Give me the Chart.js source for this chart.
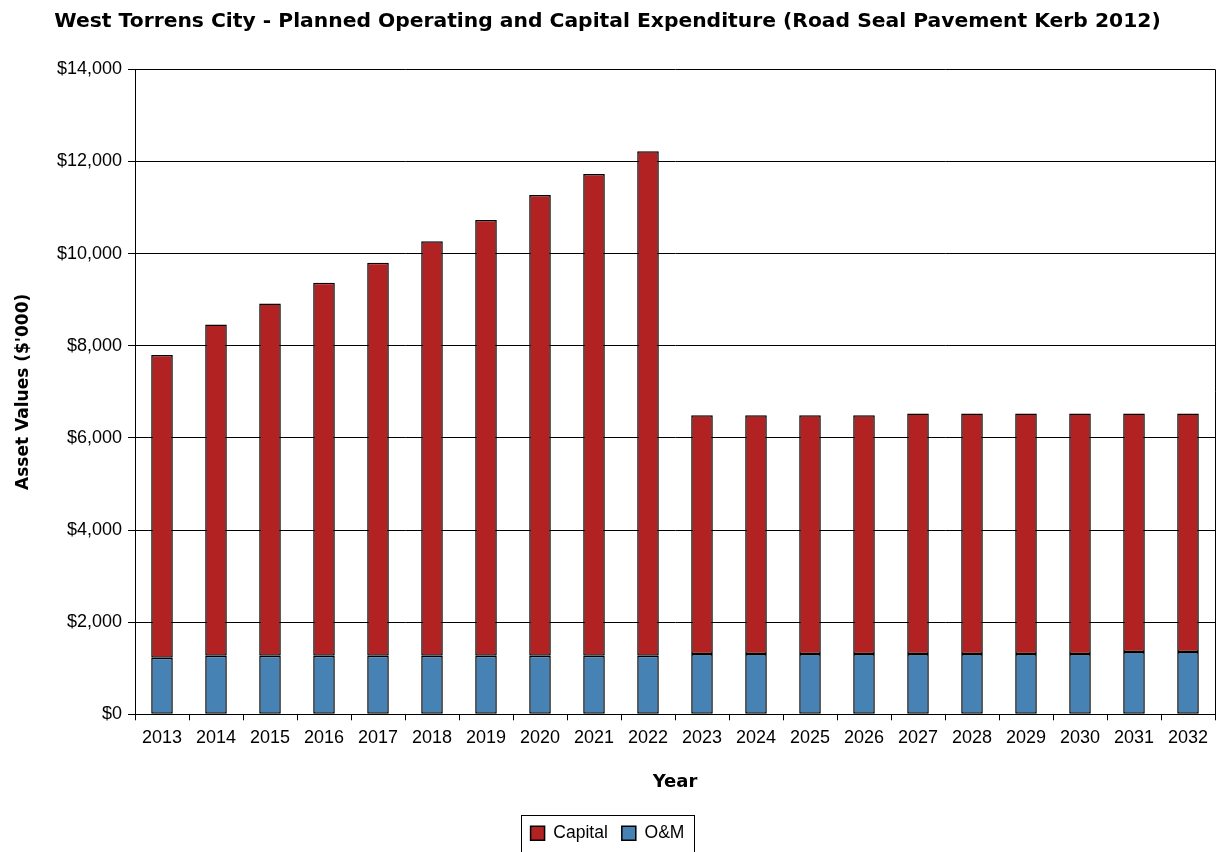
<!DOCTYPE html>
<html>
<head>
<meta charset="utf-8">
<script src="https://cdn.jsdelivr.net/npm/chart.js@4/dist/chart.umd.min.js"></script>
<style>
  html, body { margin: 0; padding: 0; background: #fff; }
  #wrap { width: 1216px; height: 852px; }
</style>
</head>
<body>
<div id="wrap"><canvas id="barChart"></canvas></div>
<script>
// Years on the x axis
const years = ["2013", "2014", "2015", "2016", "2017", "2018", "2019", "2020", "2021", "2022",
  "2023", "2024", "2025", "2026", "2027", "2028", "2029", "2030", "2031", "2032"];

// Operating & maintenance ($'000)
const omValues = [1230, 1270, 1270, 1270, 1270, 1270, 1270, 1270, 1270, 1270,
  1310, 1310, 1310, 1310, 1310, 1310, 1310, 1310, 1350, 1350];

// Capital ($'000)
const capitalValues = [6570, 7190, 7650, 8100, 8530, 9000, 9460, 10000, 10460, 10950,
  5180, 5180, 5180, 5180, 5220, 5220, 5220, 5220, 5180, 5180];

const yMin = 0, yMax = 14000, yStep = 2000;

// right border of plot area + box around legend
const framePlugin = {
  id: "frame",
  afterDraw(chart) {
    const ctx = chart.ctx;
    const a = chart.chartArea;
    ctx.save();
    ctx.strokeStyle = "#000";
    ctx.lineWidth = 1;
    ctx.beginPath();
    ctx.moveTo(Math.round(a.right) + 0.5, a.top);
    ctx.lineTo(Math.round(a.right) + 0.5, a.bottom);
    ctx.stroke();
    const lg = chart.legend;
    if (lg && lg.legendHitBoxes && lg.legendHitBoxes.length) {
      const boxes = lg.legendHitBoxes;
      const x0 = boxes[0].left - 10;
      const last = boxes[boxes.length - 1];
      const x1 = last.left + last.width + 9;
      const cy = boxes[0].top + boxes[0].height / 2;
      ctx.strokeRect(Math.round(x0) + 0.5, Math.round(cy - 18) + 0.5, Math.round(x1 - x0), 60);
    }
    ctx.restore();
  }
};

new Chart(document.getElementById("barChart"), {
  type: "bar",
  data: {
    labels: years,
    datasets: [
      {
        label: "O&M",
        data: omValues,
        backgroundColor: "#4682B4",
        borderColor: "#000",
        borderWidth: 1.5,
        borderSkipped: false,
        barPercentage: 0.4,
        categoryPercentage: 1
      },
      {
        label: "Capital",
        data: capitalValues,
        backgroundColor: "#B22222",
        borderColor: "#000",
        borderWidth: 1.5,
        borderSkipped: false,
        barPercentage: 0.4,
        categoryPercentage: 1
      }
    ]
  },
  options: {
    responsive: true,
    maintainAspectRatio: false,
    animation: false,
    layout: { padding: { left: 0, right: 1, top: 0, bottom: 0 } },
    plugins: {
      title: {
        display: true,
        text: "West Torrens City - Planned Operating and Capital Expenditure (Road Seal Pavement Kerb 2012)",
        color: "#000",
        font: { family: "DejaVu Sans", size: 20.3, weight: "bold" },
        padding: { top: 10, bottom: 35 }
      },
      legend: {
        position: "bottom",
        reverse: true,
        labels: {
          color: "#000",
          font: { family: "Liberation Sans", size: 17.5 },
          boxWidth: 14,
          boxHeight: 14,
          padding: 14
        }
      },
      tooltip: { enabled: false }
    },
    scales: {
      x: {
        stacked: true,
        grid: { display: true, drawOnChartArea: false, offset: true, color: "#000", tickLength: 6 },
        border: { display: true, color: "#000" },
        ticks: { color: "#000", font: { family: "Liberation Sans", size: 18 }, maxRotation: 0, padding: 7 },
        title: {
          display: true,
          text: "Year",
          color: "#000",
          font: { family: "DejaVu Sans", size: 18, weight: "bold" },
          padding: { top: 16, bottom: 17 }
        }
      },
      y: {
        stacked: true,
        min: yMin,
        max: yMax,
        afterFit: (axis) => { axis.width = 135; },
        grid: { color: "#000", tickLength: 7 },
        border: { display: true, color: "#000" },
        ticks: {
          stepSize: yStep,
          color: "#000",
          font: { family: "Liberation Sans", size: 18 },
          padding: 6,
          callback: (v) => "$" + v.toLocaleString("en-US")
        },
        title: {
          display: true,
          text: "Asset Values ($'000)",
          color: "#000",
          font: { family: "DejaVu Sans", size: 17, weight: "bold" },
          padding: { top: 13, bottom: 0 }
        }
      }
    }
  },
  plugins: [framePlugin]
});
</script>
</body>
</html>
